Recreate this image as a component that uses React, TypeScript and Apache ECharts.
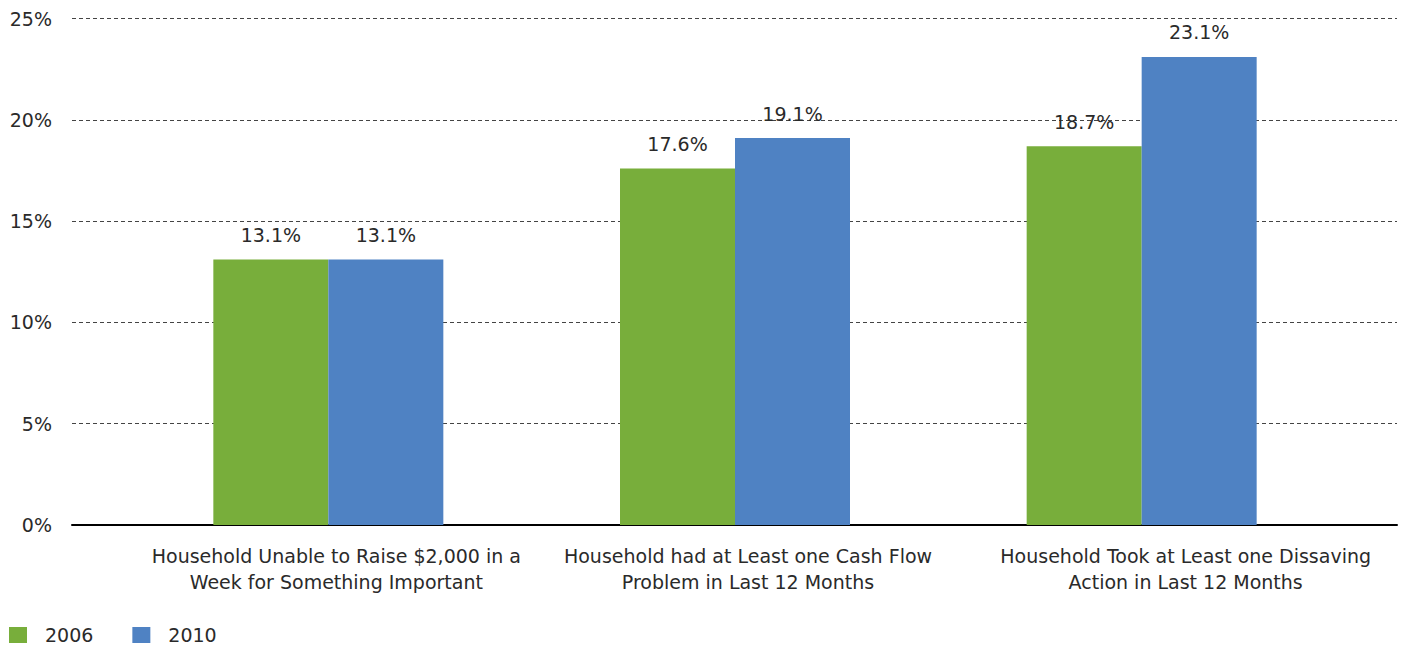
import React, { useEffect, useRef } from "react";
import * as echarts from "echarts";

const categories = [
  "Household Unable to Raise $2,000 in a\nWeek for Something Important",
  "Household had at Least one Cash Flow\nProblem in Last 12 Months",
  "Household Took at Least one Dissaving\nAction in Last 12 Months",
];
const series2006 = [13.1, 17.6, 18.7];
const series2010 = [13.1, 19.1, 23.1];
const yTicks = { min: 0, max: 25, interval: 5 };
const legendNames = ["2006", "2010"];

const labelShift = [16, 26, 88];
const FONT = "'DejaVu Sans', sans-serif";
const FW = "normal";
const FS = 19;
const TEXT = "#2a2a2a";

export default function App() {
  const ref = useRef<HTMLDivElement>(null);
  useEffect(() => {
    if (!ref.current) return;
    const chart = echarts.init(ref.current, undefined, { renderer: "svg" });
    const rich: any = {};
    labelShift.forEach((s, i) => {
      rich["r" + i] = {
        fontFamily: FONT,
        fontWeight: FW,
        fontSize: FS,
        color: TEXT,
        lineHeight: 26,
        padding: [0, 0, 0, s],
      };
    });
    const labelStyle = {
      show: true,
      position: "top",
      distance: 15,
      formatter: "{c}%",
      fontFamily: FONT,
      fontWeight: FW,
      fontSize: FS,
      color: TEXT,
    };
    chart.setOption({
      animation: false,
      textStyle: { fontFamily: FONT },
      legend: {
        left: 9,
        top: 624,
        padding: 0,
        itemWidth: 18,
        itemHeight: 16,
        itemGap: 39,
        icon: "rect",
        textStyle: {
          fontFamily: FONT,
          fontWeight: FW,
          fontSize: FS,
          color: TEXT,
          lineHeight: 22,
          padding: [0, 0, 0, 13],
        },
        data: legendNames,
      },
      grid: [
        { left: 72, right: 10, top: 18.5, bottom: 120 },
        { left: 125, width: 1220, top: 18.5, bottom: 120 },
      ],
      xAxis: [
        {
          type: "category",
          gridIndex: 0,
          data: categories,
          axisLine: { show: true, lineStyle: { color: "#000", width: 2 } },
          axisTick: { show: false },
          axisLabel: { show: false },
        },
        {
          type: "category",
          gridIndex: 1,
          data: categories,
          axisLine: { show: false },
          axisTick: { show: false },
          axisLabel: {
            interval: 0,
            hideOverlap: false,
            margin: 18,
            formatter: (v: string, i: number) =>
              v
                .split("\n")
                .map((l) => `{r${i}|${l}}`)
                .join("\n"),
            rich,
          },
        },
      ],
      yAxis: [
        {
          type: "value",
          gridIndex: 0,
          min: yTicks.min,
          max: yTicks.max,
          interval: yTicks.interval,
          axisLine: { show: false },
          axisTick: { show: false },
          axisLabel: {
            margin: 20,
            formatter: "{value}%",
            fontFamily: FONT,
            fontWeight: FW,
            fontSize: FS,
            color: TEXT,
          },
          splitLine: {
            show: true,
            lineStyle: { color: "#444", type: [4, 3], width: 1 },
          },
        },
        {
          type: "value",
          gridIndex: 1,
          min: yTicks.min,
          max: yTicks.max,
          interval: yTicks.interval,
          show: false,
          splitLine: { show: false },
        },
      ],
      series: [
        {
          name: legendNames[0],
          type: "bar",
          xAxisIndex: 1,
          yAxisIndex: 1,
          data: series2006,
          barWidth: 115,
          barGap: "0%",
          itemStyle: { color: "#78AE3B" },
          label: labelStyle,
        },
        {
          name: legendNames[1],
          type: "bar",
          xAxisIndex: 1,
          yAxisIndex: 1,
          data: series2010,
          barWidth: 115,
          barGap: "0%",
          itemStyle: { color: "#4F82C3" },
          label: labelStyle,
        },
      ],
    });
    return () => chart.dispose();
  }, []);
  return <div ref={ref} style={{ width: 1407, height: 645, position: "absolute", left: 0, top: 0 }} />;
}
